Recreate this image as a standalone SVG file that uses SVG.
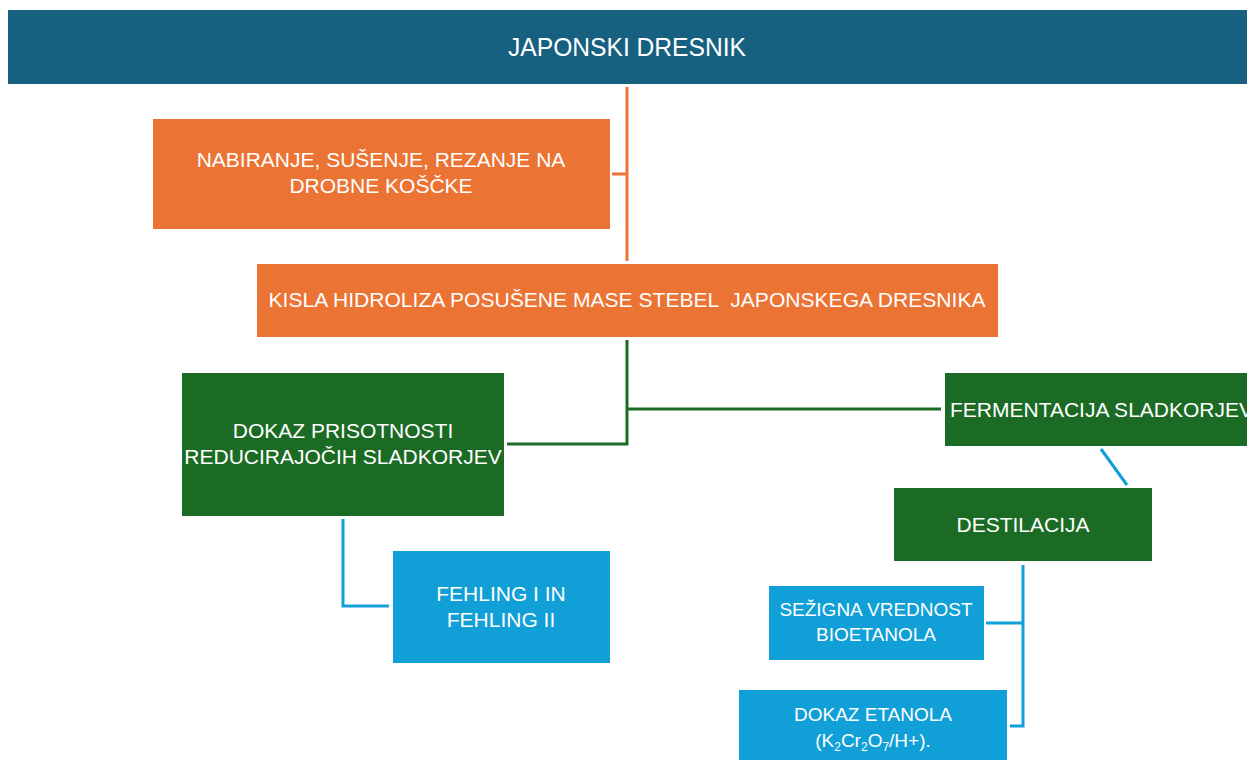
<svg xmlns="http://www.w3.org/2000/svg" width="1247" height="760" viewBox="0 0 1247 760">
<style>
text{font-family:"Liberation Sans",Arial,sans-serif;fill:#fff;text-anchor:middle;font-size:21px;white-space:pre}
text.t{font-size:26px}
text.s{font-size:19px}
tspan.sub{font-size:12px}
.or{fill:#eb7333}.gr{fill:#1b6b25}.bl{fill:#109fd6}
.lo{stroke:#eb7333;stroke-width:3;fill:none}
.lg{stroke:#1b6b25;stroke-width:3;fill:none}
.lb{stroke:#109fd6;stroke-width:3;fill:none}
</style>
<rect width="1247" height="760" fill="#fff"/>
<g id="connectors">
<path class="lo" d="M627,87V261M612,174H627"/>
<path class="lg" d="M627,340V444H507M627,409H941"/>
<path class="lb" d="M1101,449L1127,485"/>
<path class="lb" d="M343,519V606H389"/>
<path class="lb" d="M1023,565V726H1010M986,623H1023"/>
</g>
<g id="n-title"><rect x="8" y="10" width="1239" height="74" fill="#17607f"/><text class="t" x="627" y="56" textLength="238" lengthAdjust="spacingAndGlyphs">JAPONSKI DRESNIK</text></g>
<g id="n-nabiranje"><rect class="or" x="153" y="119" width="457" height="110"/><text x="381" y="167">NABIRANJE, SUŠENJE, REZANJE NA</text><text x="381" y="193">DROBNE KOŠČKE</text></g>
<g id="n-hidroliza"><rect class="or" x="257" y="264" width="741" height="73"/><text x="627" y="307" textLength="717" lengthAdjust="spacingAndGlyphs">KISLA HIDROLIZA POSUŠENE MASE STEBEL  JAPONSKEGA DRESNIKA</text></g>
<g id="n-dokaz"><rect class="gr" x="182" y="373" width="322" height="143"/><text x="343" y="438">DOKAZ PRISOTNOSTI</text><text x="343" y="464">REDUCIRAJOČIH SLADKORJEV</text></g>
<g id="n-fermentacija"><rect class="gr" x="945" y="373" width="310" height="73"/><text x="950" y="417" style="text-anchor:start">FERMENTACIJA SLADKORJEV</text></g>
<g id="n-destilacija"><rect class="gr" x="894" y="488" width="258" height="73"/><text x="1023" y="532">DESTILACIJA</text></g>
<g id="n-fehling"><rect class="bl" x="393" y="551" width="217" height="112"/><text x="501" y="601">FEHLING I IN</text><text x="501" y="627">FEHLING II</text></g>
<g id="n-sezigna"><rect class="bl" x="769" y="586" width="215" height="74"/><text class="s" x="876" y="616">SEŽIGNA VREDNOST</text><text class="s" x="876" y="641">BIOETANOLA</text></g>
<g id="n-etanol"><rect class="bl" x="739" y="690" width="268" height="70"/><text class="s" x="873" y="721">DOKAZ ETANOLA</text><text class="s" x="873" y="747">(K<tspan class="sub" dy="4">2</tspan><tspan dy="-4">Cr</tspan><tspan class="sub" dy="4">2</tspan><tspan dy="-4">O</tspan><tspan class="sub" dy="4">7</tspan><tspan dy="-4">/H+).</tspan></text></g>
</svg>
